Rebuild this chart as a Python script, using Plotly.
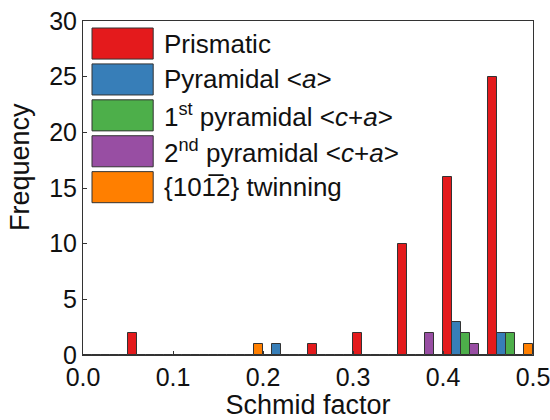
import plotly.graph_objects as go

# Bin centres of the Schmid factor histogram (bin width 0.05)
bin_centers = [0.025, 0.075, 0.125, 0.175, 0.225, 0.275, 0.325, 0.375, 0.425, 0.475]

series_names = [
    "Prismatic",
    "Pyramidal &lt;<i>a</i>&gt;",
    "1<sup>st</sup> pyramidal &lt;<i>c</i>+<i>a</i>&gt;",
    "2<sup>nd</sup> pyramidal &lt;<i>c</i>+<i>a</i>&gt;",
    "{101\u03052} twinning",
]
prismatic = [0, 2, 0, 0, 0, 1, 2, 10, 16, 25]
pyramidal_a = [0, 0, 0, 0, 1, 0, 0, 0, 3, 2]
pyr1_ca = [0, 0, 0, 0, 0, 0, 0, 0, 2, 2]
pyr2_ca = [0, 0, 0, 0, 0, 0, 0, 2, 1, 0]
twinning = [0, 0, 0, 1, 0, 0, 0, 0, 0, 1]
series_values = [prismatic, pyramidal_a, pyr1_ca, pyr2_ca, twinning]
colors = ["#e41a1c", "#377eb8", "#4daf4a", "#984ea3", "#ff7f00"]

x_ticks = [0.0, 0.1, 0.2, 0.3, 0.4, 0.5]
y_ticks = [0, 5, 10, 15, 20, 25, 30]

FONT = "Liberation Sans, Arial, sans-serif"

fig = go.Figure()
for name, vals, col in zip(series_names, series_values, colors):
    fig.add_trace(go.Bar(
        x=bin_centers, y=vals, name=name,
        marker=dict(color=col, line=dict(color="#333333", width=1)),
        showlegend=False,
    ))

# Custom large-swatch legend (inside the plot, top-left)
shapes = []
annotations = []
row_top = 0.979
row_h = 0.093
row_pitch = 0.1075
for i, (name, col) in enumerate(zip(series_names, colors)):
    y1 = row_top - i * row_pitch
    y0 = y1 - row_h
    shapes.append(dict(type="rect", xref="paper", yref="paper",
                       x0=0.02, x1=0.156, y0=y0, y1=y1,
                       fillcolor=col, line=dict(color="#333333", width=1)))
    annotations.append(dict(xref="paper", yref="paper", x=0.175, y=(y0 + y1) / 2,
                            text=name, showarrow=False, xanchor="left", yanchor="middle",
                            font=dict(family=FONT, size=26, color="#111111")))

# y-axis title as an annotation for exact placement
annotations.append(dict(xref="paper", yref="paper", x=-0.14, y=0.563,
                        text="Frequency", showarrow=False, textangle=-90,
                        xanchor="center", yanchor="middle",
                        font=dict(family=FONT, size=27, color="#111111")))

fig.update_layout(
    width=550, height=420,
    margin=dict(l=83, r=17, t=21, b=65, autoexpand=False),
    barmode="group", bargap=0, bargroupgap=0,
    plot_bgcolor="white", paper_bgcolor="white",
    font=dict(family=FONT, size=25, color="#111111"),
    shapes=shapes, annotations=annotations,
    xaxis=dict(range=[0, 0.5], tickvals=x_ticks, ticktext=[f"{v:.1f}" for v in x_ticks],
               ticks="inside", ticklen=4, tickcolor="#333333",
               showline=True, linecolor="#333333", linewidth=1, mirror=True,
               showgrid=False, zeroline=False, automargin=False,
               ticklabeloverflow="allow",
               title=dict(text="Schmid factor", font=dict(size=27), standoff=2)),
    yaxis=dict(range=[0, 30], tickvals=y_ticks,
               ticks="inside", ticklen=4, tickcolor="#333333",
               showline=True, linecolor="#333333", linewidth=1, mirror=True,
               showgrid=False, zeroline=False, automargin=False,
               ticklabeloverflow="allow"),
)

fig.write_html("out.html")
